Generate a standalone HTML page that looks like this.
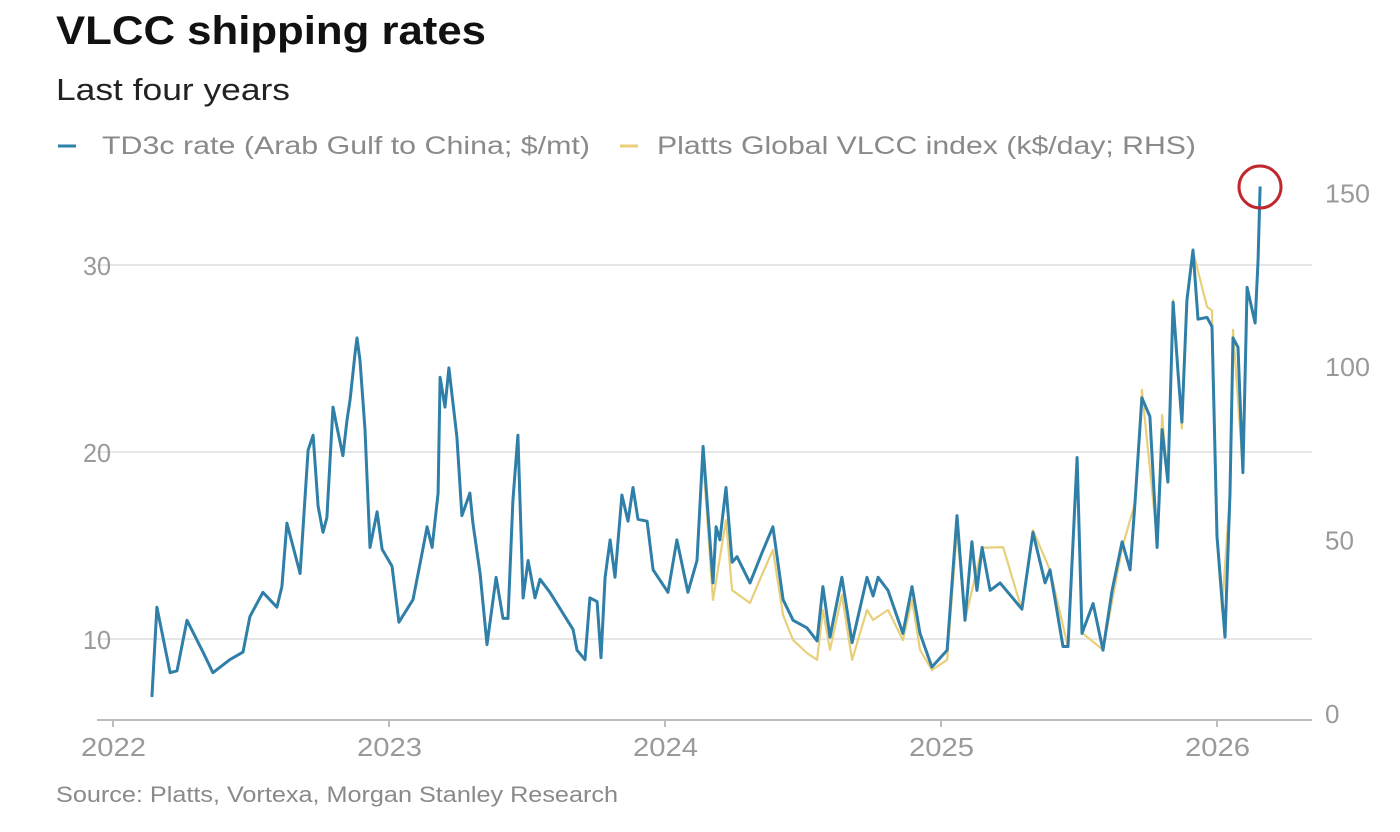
<!DOCTYPE html>
<html><head><meta charset="utf-8"><style>
body{margin:0;background:#fff;font-family:"Liberation Sans",Arial,sans-serif;}
#wrap{position:relative;width:1400px;height:832px;overflow:hidden;}
</style></head><body>
<div id="wrap">
<svg id="chart" width="1400" height="832">
<text x="56" y="44" font-size="40" font-weight="bold" fill="#111" textLength="430" lengthAdjust="spacingAndGlyphs">VLCC shipping rates</text>
<text x="56" y="100" font-size="31" fill="#222" textLength="234" lengthAdjust="spacingAndGlyphs">Last four years</text>
<g>
<line x1="58" y1="146" x2="76" y2="146" stroke="#2f80a8" stroke-width="3"/>
<text x="102" y="154" font-size="25" fill="#8a8a8a" textLength="488" lengthAdjust="spacingAndGlyphs">TD3c rate (Arab Gulf to China; $/mt)</text>
<line x1="620" y1="146" x2="638" y2="146" stroke="#e8cf7a" stroke-width="3"/>
<text x="657" y="154" font-size="25" fill="#8a8a8a" textLength="539" lengthAdjust="spacingAndGlyphs">Platts Global VLCC index (k$/day; RHS)</text>
</g>
<g id="grid"></g><g id="axes"></g><g id="series"></g>
<circle cx="1260" cy="187" r="21" fill="none" stroke="#c0282e" stroke-width="3"/>
<text x="56" y="802" font-size="22" fill="#8a8a8a" textLength="562" lengthAdjust="spacingAndGlyphs">Source: Platts, Vortexa, Morgan Stanley Research</text>
</svg>
</div>
<script>
const leftTicks=[10,20,30];
const rightTicks=[0,50,100,150];
const yearTicks=[2022,2023,2024,2025,2026];
const td3cDates=[2022.141,2022.159,2022.207,2022.232,2022.268,2022.326,2022.362,2022.424,2022.471,2022.496,2022.543,2022.594,2022.612,2022.630,2022.678,2022.707,2022.725,2022.743,2022.761,2022.775,2022.797,2022.812,2022.833,2022.848,2022.859,2022.877,2022.884,2022.895,2022.913,2022.931,2022.957,2022.975,2023.011,2023.036,2023.087,2023.120,2023.138,2023.156,2023.178,2023.185,2023.203,2023.217,2023.246,2023.264,2023.293,2023.304,2023.330,2023.355,2023.388,2023.413,2023.431,2023.449,2023.467,2023.486,2023.504,2023.529,2023.547,2023.583,2023.667,2023.681,2023.710,2023.728,2023.754,2023.768,2023.783,2023.801,2023.819,2023.844,2023.866,2023.884,2023.902,2023.935,2023.957,2024.011,2024.043,2024.083,2024.116,2024.138,2024.149,2024.174,2024.185,2024.199,2024.221,2024.243,2024.261,2024.308,2024.351,2024.391,2024.428,2024.464,2024.514,2024.551,2024.572,2024.598,2024.641,2024.678,2024.732,2024.754,2024.772,2024.808,2024.862,2024.895,2024.924,2024.967,2025.022,2025.058,2025.087,2025.112,2025.130,2025.149,2025.178,2025.214,2025.293,2025.333,2025.377,2025.395,2025.442,2025.460,2025.493,2025.511,2025.551,2025.587,2025.620,2025.656,2025.685,2025.703,2025.728,2025.757,2025.783,2025.801,2025.822,2025.841,2025.859,2025.873,2025.891,2025.913,2025.931,2025.964,2025.982,2026.000,2026.029,2026.047,2026.058,2026.076,2026.094,2026.109,2026.138,2026.149,2026.156];
const td3cValues=[6.9,11.7,8.2,8.3,11.0,9.3,8.2,8.9,9.3,11.2,12.5,11.7,12.8,16.2,13.5,20.1,20.9,17.1,15.7,16.5,22.4,21.3,19.8,21.7,22.8,25.3,26.1,24.9,21.2,14.9,16.8,14.8,13.9,10.9,12.1,14.6,16.0,14.9,17.8,24.0,22.4,24.5,20.8,16.6,17.8,16.2,13.5,9.7,13.3,11.1,11.1,17.4,20.9,12.2,14.2,12.2,13.2,12.5,10.5,9.4,8.9,12.2,12.0,9.0,13.3,15.3,13.3,17.7,16.3,18.1,16.4,16.3,13.7,12.5,15.3,12.5,14.2,20.3,18.1,13.0,16.0,15.3,18.1,14.1,14.4,13.0,14.6,16.0,12.1,11.0,10.6,9.9,12.8,10.1,13.3,9.8,13.3,12.3,13.3,12.6,10.3,12.8,10.3,8.5,9.4,16.6,11.0,15.2,12.6,14.9,12.6,13.0,11.6,15.7,13.0,13.7,9.6,9.6,19.7,10.3,11.9,9.4,12.6,15.2,13.7,17.3,22.9,21.9,14.9,21.2,18.4,28.0,24.2,21.6,28.1,30.8,27.1,27.2,26.7,15.5,10.1,17.8,26.1,25.6,18.9,28.8,26.9,30.3,34.2];
const plattsDates=[2024.138,2024.174,2024.221,2024.243,2024.308,2024.351,2024.391,2024.428,2024.464,2024.514,2024.551,2024.572,2024.598,2024.641,2024.678,2024.732,2024.754,2024.808,2024.862,2024.895,2024.924,2024.967,2025.022,2025.058,2025.087,2025.149,2025.225,2025.293,2025.333,2025.395,2025.460,2025.493,2025.511,2025.587,2025.656,2025.703,2025.728,2025.783,2025.801,2025.822,2025.841,2025.873,2025.891,2025.913,2025.964,2025.982,2026.000,2026.018,2026.047,2026.058,2026.094,2026.109,2026.138];
const plattsValues=[72.9,32.6,55.6,35.4,31.7,39.8,47.0,28.2,21.0,17.3,15.3,29.7,18.2,34.0,15.3,29.7,26.8,29.7,21.0,32.6,18.2,12.4,15.3,52.7,26.8,47.6,47.8,29.7,52.7,41.2,19.0,73.8,23.1,18.2,47.6,60.5,93.1,49.9,85.9,66.3,119.0,82.0,119.0,133.0,117.0,116.0,49.9,29.7,63.4,110.4,70.0,122.8,112.4];
const NS="http://www.w3.org/2000/svg";
const X=d=>113+(d-2022)*276;
const YL=v=>826-18.7*v;
const YR=k=>713-3.47*k;
function mk(t,a,p){const e=document.createElementNS(NS,t);for(const k in a)e.setAttribute(k,a[k]);p.appendChild(e);return e;}
const grid=document.getElementById('grid'),axes=document.getElementById('axes'),ser=document.getElementById('series');
leftTicks.forEach(v=>{
 const l=mk('line',{x1:97,x2:1312,y1:YL(v),y2:YL(v),stroke:'#e6e6e6','stroke-width':2},grid);
 
 
 const t=mk('text',{x:83,y:YL(v)+10,'font-size':26,fill:'#9a9a9a',textLength:28,lengthAdjust:'spacingAndGlyphs'},axes);t.textContent=v;
 
 
});
rightTicks.forEach(k=>{
 const t=mk('text',{x:1325,y:YR(k)+10,'font-size':26,fill:'#9a9a9a'},axes);t.textContent=k;
 if(String(k).length===3){t.setAttribute('textLength',45);t.setAttribute('lengthAdjust','spacingAndGlyphs');}
 
 
});
const ax=mk('line',{x1:97,x2:1312,y1:720,y2:720,stroke:'#bdbdbd','stroke-width':2},axes);


yearTicks.forEach(y=>{
 const tk=mk('line',{x1:X(y),x2:X(y),y1:720,y2:727,stroke:'#bdbdbd','stroke-width':2},axes);
 
 
 const t=mk('text',{x:X(y)-32,y:756,'font-size':26,fill:'#9a9a9a',textLength:65,lengthAdjust:'spacingAndGlyphs'},axes);t.textContent=y;
 
 
});
const pp=plattsDates.map((d,i)=>X(d).toFixed(1)+','+YR(plattsValues[i]).toFixed(1)).join(' ');
const p1=mk('polyline',{points:pp,fill:'none',stroke:'#e8cf7a','stroke-width':2.2,'stroke-linejoin':'round'},ser);


const tp=td3cDates.map((d,i)=>X(d).toFixed(1)+','+YL(td3cValues[i]).toFixed(1)).join(' ');
const p2=mk('polyline',{points:tp,fill:'none',stroke:'#2f7fa8','stroke-width':3,'stroke-linejoin':'round'},ser);


</script>
</body></html>
